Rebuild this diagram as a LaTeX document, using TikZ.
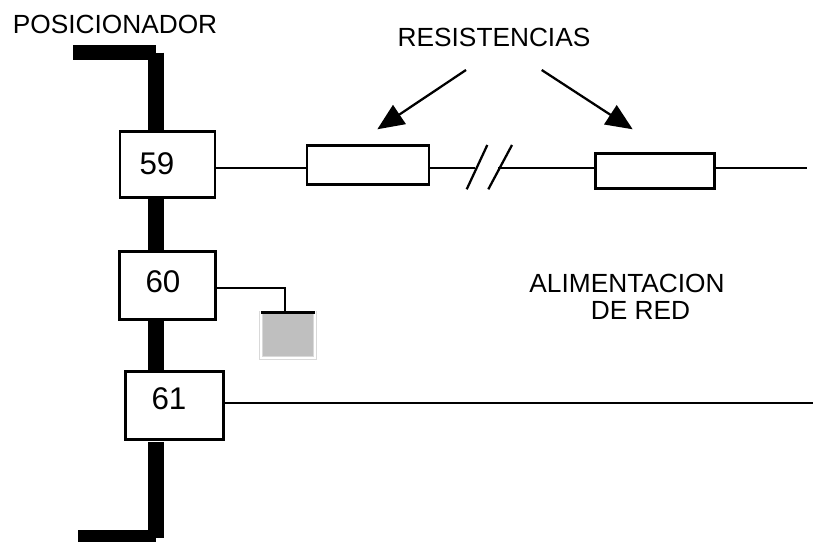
\documentclass[tikz,border=0pt]{standalone}
\usepackage{fontspec}
\setmainfont{Liberation Sans}
\usetikzlibrary{arrows.meta}
\tikzset{
    every edge/.append style={line width=1.7pt}
}
\tikzset{
    numbox/.style={rectangle, draw, fill=white, line width=2pt, outer sep=0pt, inner sep=0pt},
    resbox/.style={rectangle, draw, line width=2pt, outer sep=0pt, inner sep=0pt},
    tierrabox/.style={rectangle, draw=black!15, line width=.7pt, double=white, double distance=1.5pt,
    	fill=black!25, outer sep=0pt, inner sep=0pt, minimum width=40.35pt, minimum height=34.1pt},
    bar/.style={line width=11.7pt},
    numtext/.style={font=\fontsize{23.5}{28}\selectfont, inner sep=0pt},
    captext/.style={font=\fontsize{19.7}{24}\selectfont, inner sep=0pt}
}

\begin{document}
\begin{tikzpicture}[x=.75pt, y=-.75pt]
	\useasboundingbox (0,0) rectangle (813,542);

	\coordinate (barA) at (73,52.5);
	\coordinate (barB) at (155.7,52.5);
	\coordinate (barC) at (156,52.7);
	\coordinate (barD) at (156,537.7);
	\coordinate (barE) at (155.7,538);
	\coordinate (barF) at (78,538);

	\node (box59) [numbox, minimum width=71.25pt, minimum height=49.5pt] at (167.6,164.3) {};
	\node (box60) [numbox, minimum width=72pt, minimum height=51pt] at (167.8,285.8) {};
	\node (box61) [numbox, minimum width=73.5pt, minimum height=51pt] at (174.5,405.8) {};
	\node (res1) [resbox, minimum width=91.5pt, minimum height=29.25pt] at (368,164.7) {};
	\node (res2) [resbox, minimum width=89.25pt, minimum height=26.25pt] at (654.7,171) {};
	\node (tierra) [tierrabox] at (287.7,335.2) {};

	\node (t59) [numtext] at (157,164) {59};
	\node (t60) [numtext] at (163,282) {60};
	\node (t61) [numtext] at (169,399) {61};
	\node (posicionador) [captext] at (115,24) {POSICIONADOR};
	\node (resistencias) [captext] at (494,37) {RESISTENCIAS};
	\node (alimentacion) [captext] at (627,283) {ALIMENTACION};
	\node (dered) [captext] at (640.5,310) {DE RED};

	\coordinate (corteA) at (475,168.3);
	\coordinate (corteB) at (498,168.3);
	\coordinate (finA) at (807,168.3);
	\coordinate (codo) at (285,288.3);
	\coordinate (finB) at (813,403.3);
	\coordinate (slashA) at (466.7,189.3);
	\coordinate (slashB) at (487.3,145);
	\coordinate (slashC) at (488.3,189.3);
	\coordinate (slashD) at (512,145);
	\coordinate (flechaA) at (466,70);
	\coordinate (puntaA) at (377.3,129.3);
	\coordinate (flechaB) at (541.7,70);
	\coordinate (puntaB) at (632.7,129.3);

	\draw (barA) edge[bar] (barB); \draw (barC) edge[bar] (barC |- box59.north);
	\draw (barC |- box59.south) edge[bar] (barC |- box60.north);
	\draw (barC |- box60.south) edge[bar] (barC |- box61.north);
	\draw (barD |- box61.south) edge[bar, shorten <=1.5pt] (barD);
	\draw (barE) edge[bar] (barF);

	\draw (box59.east |- corteA) edge (res1.west |- corteA);
	\draw (res1.east |- corteA) edge (corteA);
	\draw (corteB) edge (res2.west |- corteB);
	\draw (res2.east |- corteB) edge (finA);
	\draw (slashA) edge (slashB); \draw (slashC) edge (slashD);

	\draw[line width=1.7pt] (box60.east |- codo) -- (codo) -- (tierra.north -| codo);
	\draw (tierra.north west) edge[line width=1.8pt] (tierra.north east);
	\draw (box61.east |- finB) edge (finB);

	\draw (flechaA) edge[-{Triangle[length=20pt, width=17pt]}] (puntaA);
	\draw (flechaB) edge[-{Triangle[length=20pt, width=17pt]}] (puntaB);
\end{tikzpicture}
\end{document}
